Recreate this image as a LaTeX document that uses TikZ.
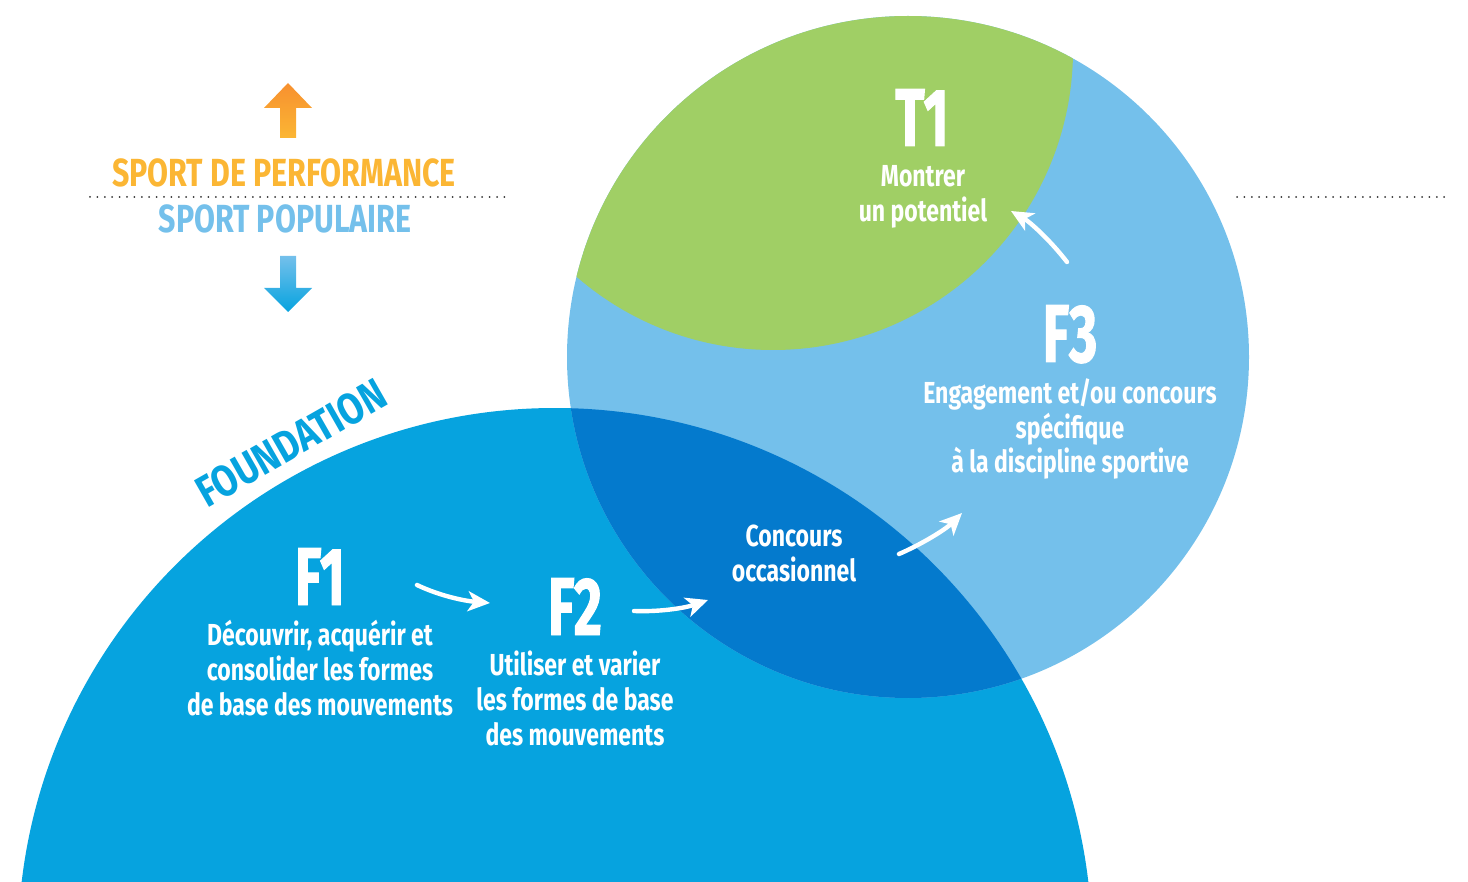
\documentclass[tikz,border=0pt]{standalone}
\usepackage{fontspec}
\setmainfont{Fira Sans}[FakeStretch=0.757]
\newfontfamily\bigfont{Fira Sans}[FakeStretch=0.66, FakeBold=1.2]
\newfontfamily\headfont{Fira Sans}[FakeStretch=0.775]
\newfontfamily\foundfont{Fira Sans}[FakeStretch=0.82]
\usetikzlibrary{arrows.meta}
\definecolor{found}{HTML}{06A3DF}
\definecolor{overlap}{HTML}{047ACD}
\definecolor{lightb}{HTML}{74C0EB}
\definecolor{greent}{HTML}{A0CF65}
\definecolor{perf}{HTML}{FBB634}
\definecolor{perfdark}{HTML}{F7902F}
\definecolor{dotc}{HTML}{333333}
\tikzset{
  bodytxt/.style={text=white, align=center, font=\bfseries\fontsize{15.2}{17.5}\selectfont, inner sep=0pt, anchor=base},
  biglabel/.style={text=white, font=\bigfont\bfseries\fontsize{41}{41}\selectfont, inner sep=0pt, anchor=base},
  flowarrow/.style={draw=white, line width=2.2pt, line cap=round, -{Stealth[length=11pt,width=10pt,inset=3pt]}},
  dotline/.style={draw=dotc, line width=1pt, line cap=round, dash pattern=on 0pt off 3.7pt},
  headtxt/.style={font=\headfont\bfseries\fontsize{19.6}{20}\selectfont, inner sep=0pt, anchor=base}
}
\begin{document}
\begin{tikzpicture}[x=0.5pt,y=-0.5pt]
\useasboundingbox (0,0) rectangle (1468,882);
\begin{scope}
  \clip (0,0) rectangle (1468,882);
  \fill[found] (555,945) circle[radius=537];
  \fill[lightb] (908,357) circle[radius=341];
  \begin{scope}
    \clip (908,357) circle[radius=341];
    \fill[greent] (773,50) circle[radius=300];
    \clip (555,945) circle[radius=537];
    \fill[overlap] (908,357) circle[radius=341];
  \end{scope}
\end{scope}

% dotted lines
\coordinate (dl1) at (90,197);
\coordinate (dl2) at (505,197);
\coordinate (dr1) at (1237,197);
\coordinate (dr2) at (1451,197);
\draw[dotline] (dl1) -- (dl2);
\draw[dotline] (dr1) -- (dr2);

% up / down arrows
\shade[top color=perfdark, bottom color=perf]
  (288,83) -- (312,108) -- (296,108) -- (296,138) -- (280,138) -- (280,108) -- (264,108) -- cycle;
\shade[top color=lightb, bottom color=found]
  (280,256) -- (296,256) -- (296,288) -- (312,288) -- (288,312) -- (264,288) -- (280,288) -- cycle;

\node[headtxt, text=perf] (perfT) at (284,187) {SPORT DE PERFORMANCE};
\node[headtxt, text=lightb] (popT) at (285,233) {SPORT POPULAIRE};

\node[text=found, font=\foundfont\bfseries\fontsize{22}{22}\selectfont, rotate=29.7, inner sep=0pt] (foundT) at (291,443) {FOUNDATION};

% labels
\node[biglabel] (T1) at (922,146) {T1};
\node[bodytxt] (T1t) at (923,222) {Montrer\\un potentiel};
\node[biglabel] (F3) at (1070,362) {F3};
\node[bodytxt] (F3t) at (1070,473) {Engagement et/ou concours\\spécifique\\à la discipline sportive};
\node[bodytxt] (Cc) at (794,581) {Concours\\occasionnel};
\node[biglabel] (F1) at (320,605) {F1};
\node[bodytxt] (F1t) at (320,715) {Découvrir, acquérir et\\consolider les formes\\de base des mouvements};
\node[biglabel] (F2) at (575,635) {F2};
\node[bodytxt] (F2t) at (575,745) {Utiliser et varier\\les formes de base\\des mouvements};

% arrows
\coordinate (a1s) at (417,585);
\coordinate (a1e) at (490,603);
\coordinate (a2s) at (634,611);
\coordinate (a2e) at (708,600);
\coordinate (a3s) at (899,554);
\coordinate (a3e) at (962,513);
\coordinate (a4s) at (1067,262);
\coordinate (a4e) at (1011,211);
\draw[flowarrow] (a1s) .. controls (440,596) and (465,601) .. (a1e);
\draw[flowarrow] (a2s) .. controls (660,612) and (685,608) .. (a2e);
\draw[flowarrow] (a3s) .. controls (920,545) and (945,530) .. (a3e);
\draw[flowarrow] (a4s) .. controls (1050,240) and (1030,222) .. (a4e);
\end{tikzpicture}
\end{document}
